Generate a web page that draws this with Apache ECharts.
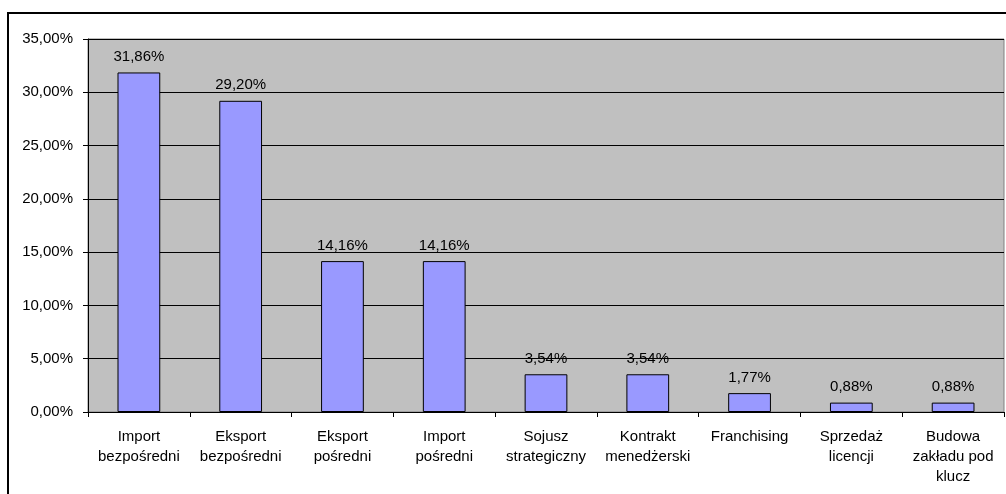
<!DOCTYPE html>
<html>
<head>
<meta charset="utf-8">
<script src="https://cdn.jsdelivr.net/npm/echarts@6/dist/echarts.min.js"></script>
<style>html,body{margin:0;padding:0;background:#fff}#c{width:1006px;height:494px}</style>
</head>
<body>
<div id="c"></div>
<script>
const categories = ["Import\nbezpośredni", "Eksport\nbezpośredni", "Eksport\npośredni", "Import\npośredni", "Sojusz\nstrategiczny", "Kontrakt\nmenedżerski", "Franchising", "Sprzedaż\nlicencji", "Budowa\nzakładu pod\nklucz"];
const values = [31.86, 29.20, 14.16, 14.16, 3.54, 3.54, 1.77, 0.88, 0.88];
const yMin = 0, yMax = 35, yStep = 5;

const fmt = v => v.toFixed(2).replace('.', ',') + '%';
const chart = echarts.init(document.getElementById('c'), null, {renderer: 'canvas'});
const font = 'Liberation Sans, Arial, sans-serif';
chart.setOption({
  animation: false,
  backgroundColor: '#fff',
  textStyle: {fontFamily: font},
  graphic: [{
    type: 'rect', z: 100,
    shape: {x: 8, y: 13, width: 1010, height: 500},
    style: {fill: 'none', stroke: '#000', lineWidth: 2}
  }],
  grid: {left: 88, right: 2, top: 39, bottom: 82, show: true, backgroundColor: '#C0C0C0', borderColor: '#808080', borderWidth: 1},
  xAxis: {
    type: 'category', data: categories,
    axisLine: {lineStyle: {color: '#000', width: 1}},
    axisTick: {show: true, length: 5, inside: false, lineStyle: {color: '#000'}},
    axisLabel: {color: '#000', fontSize: 15, fontFamily: font, lineHeight: 20, margin: 15, interval: 0}
  },
  yAxis: {
    type: 'value', min: yMin, max: yMax, interval: yStep,
    axisLine: {show: true, lineStyle: {color: '#000', width: 1}},
    axisTick: {show: true, length: 5, lineStyle: {color: '#000'}},
    axisLabel: {color: '#000', fontSize: 15, fontFamily: font, margin: 15, formatter: v => fmt(v)},
    splitLine: {show: true, lineStyle: {color: '#000', width: 1}}
  },
  series: [{
    type: 'bar', data: values, barWidth: '42%',
    itemStyle: {color: '#9999FF', borderColor: '#000', borderWidth: 1},
    label: {show: true, position: 'top', distance: 8, color: '#000', fontSize: 15, fontFamily: font, formatter: p => fmt(p.value)}
  }]
});
</script>
</body>
</html>
